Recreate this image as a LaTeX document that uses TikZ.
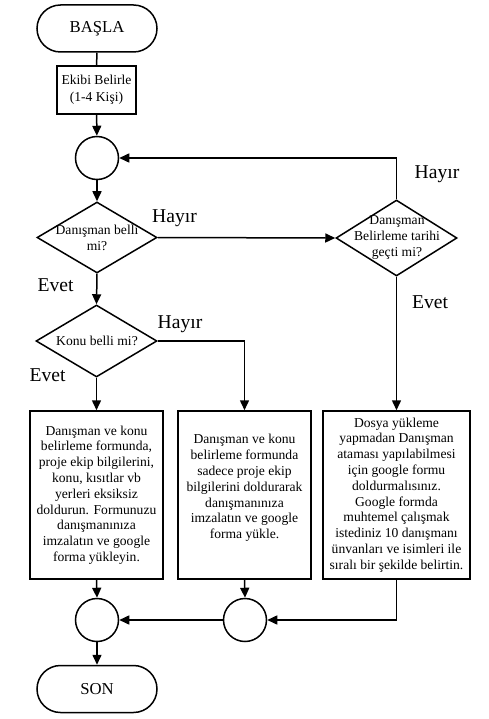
\documentclass[tikz,border=0pt]{standalone}
\usepackage{fontspec}
\setmainfont{Liberation Serif}
\usetikzlibrary{shapes.geometric,arrows.meta}
\begin{document}
\begin{tikzpicture}[x=1pt,y=-1pt,
  line width=1.5pt,
  arr/.style={-{Triangle[length=10pt,width=9pt]}},
  term/.style={draw,rounded corners=23.5pt,minimum width=120pt,minimum height=47pt,inner sep=0pt,font=\fontsize{16.7}{19}\selectfont},
  procbox/.style={draw,inner sep=0pt,align=center,font=\fontsize{13.6}{15.8}\selectfont},
  junc/.style={draw,circle,minimum size=43pt,inner sep=0pt},
  dec/.style={draw,diamond,inner sep=0pt},
  dectext/.style={align=center,inner sep=0pt,font=\fontsize{13.6}{15.6}\selectfont},
  lbl/.style={anchor=base,inner sep=0pt,font=\fontsize{19.6}{22}\selectfont}
]
\useasboundingbox (0,0) rectangle (489,719);

\node[term] (start) at (97,28.5) {BAŞLA};
\node[procbox,minimum width=79pt,minimum height=48pt,font=\fontsize{13.6}{17}\selectfont] (ekip) at (96.5,90) {Ekibi Belirle\\(1-4 Kişi)};
\node[junc] (c1) at (97,158) {};
\node[dec,minimum width=120pt,minimum height=71pt] (d1) at (97,237.5) {};
\node[dectext] (d1t) at (97,238) {Danışman belli\\mi?};
\node[dec,minimum width=121pt,minimum height=76pt] (d2) at (396.5,238) {};
\node[dectext] (d2t) at (397,237.5) {Danışman\\Belirleme tarihi\\geçti mi?};
\node[dec,minimum width=121pt,minimum height=72pt] (d3) at (96.5,341) {};
\node[dectext] (d3t) at (97,341) {Konu belli mi?};

\node[procbox,minimum width=133pt,minimum height=168pt] (b1) at (96.5,495) {Danışman ve konu\\belirleme formunda,\\proje ekip bilgilerini,\\konu, kısıtlar vb\\yerleri eksiksiz\\doldurun. Formunuzu\\danışmanınıza\\imzalatın ve google\\forma yükleyin.};
\node[procbox,minimum width=133pt,minimum height=168pt] (b2) at (244.5,495) {};
\node[procbox,draw=none] (b2t) at (244.5,488) {Danışman ve konu\\belirleme formunda\\sadece proje ekip\\bilgilerini doldurarak\\danışmanınıza\\imzalatın ve google\\forma yükle.};
\node[procbox,minimum width=147pt,minimum height=168pt] (b3) at (396.5,495) {Dosya yükleme\\yapmadan Danışman\\ataması yapılabilmesi\\için google formu\\doldurmalısınız.\\Google formda\\muhtemel çalışmak\\istediniz 10 danışmanı\\ünvanları ve isimleri ile\\sıralı bir şekilde belirtin.};

\node[junc] (c2) at (97,620) {};
\node[junc] (c3) at (245,620) {};
\node[term] (son) at (97,689) {SON};

\draw (start) -- (ekip);
\draw[arr] (ekip) -- (c1);
\draw[arr] (c1) -- (d1);
\draw[arr] (d1.east) -- (d2.west);
\draw[arr] (d2.north) |- (c1.east);
\draw[arr] (d1.south) -- (d3.north);
\draw[arr] (d3.east) -| (b2.north);
\draw[arr] (d3.south) -- (b1.north);
\draw[arr] (d2.south) -- (b3.north);
\draw[arr] (b1.south) -- (c2.north);
\draw[arr] (b2.south) -- (c3.north);
\draw[arr] (b3.south) |- (c3.east);
\draw[arr] (c3.west) -- (c2.east);
\draw[arr] (c2.south) -- (son.north);

\node[lbl] (h1) at (174.5,222.5) {Hayır};
\node[lbl] (h2) at (437,179) {Hayır};
\node[lbl] (h3) at (180,328) {Hayır};
\node[lbl] (e1) at (55.5,291.5) {Evet};
\node[lbl] (e2) at (47.5,381) {Evet};
\node[lbl] (e3) at (430,308) {Evet};
\end{tikzpicture}
\end{document}
